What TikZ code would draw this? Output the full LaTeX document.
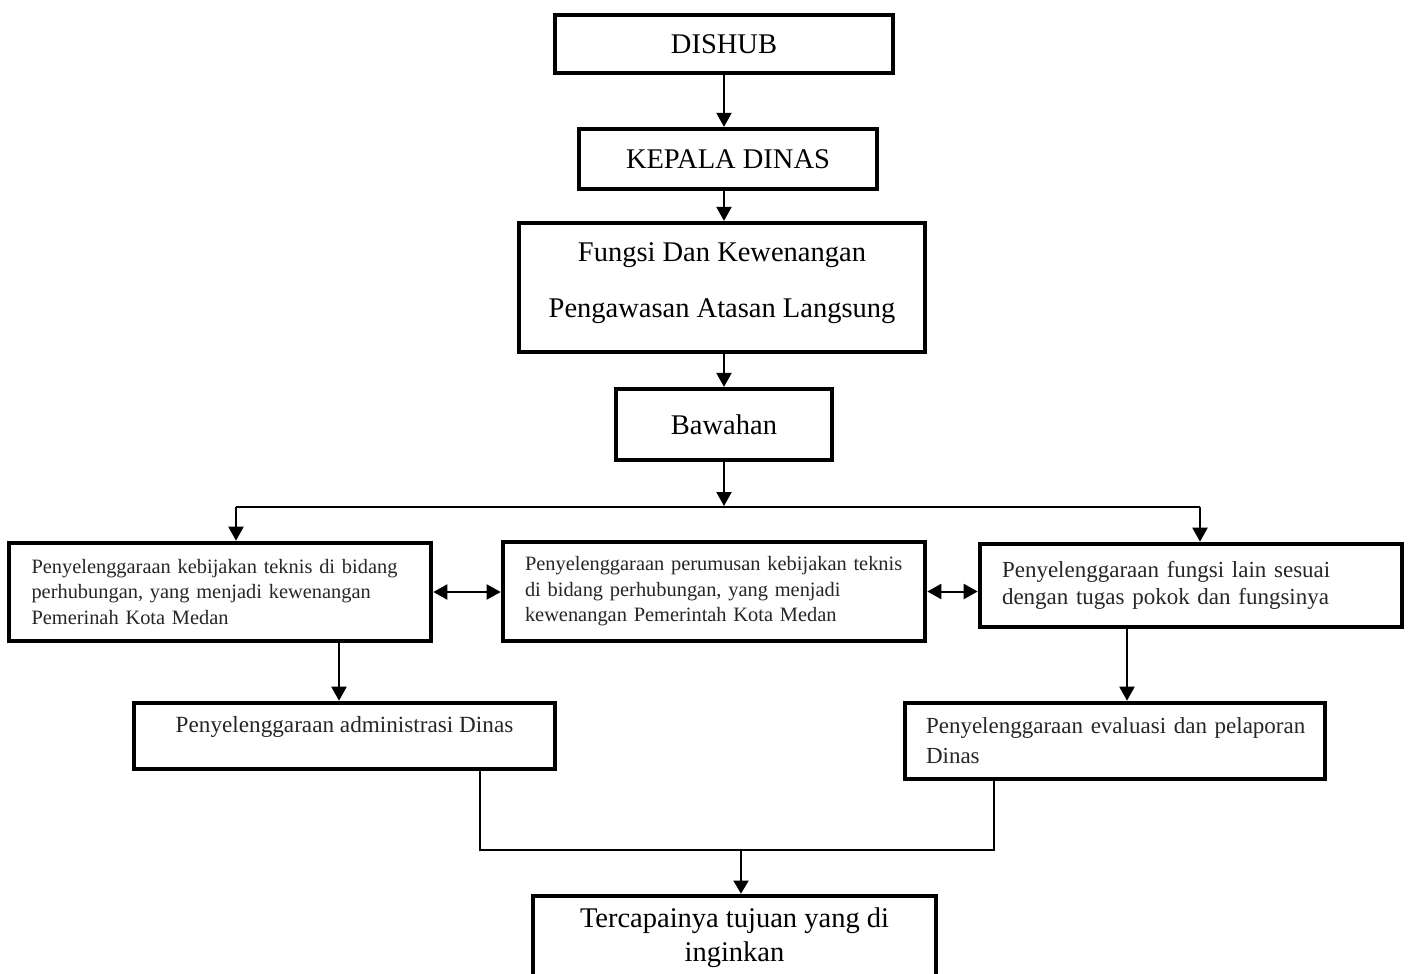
\documentclass[tikz,border=0pt]{standalone}
\usepackage{fontspec}
\setmainfont{Liberation Serif}
\usetikzlibrary{arrows.meta,calc}
\begin{document}
\begin{tikzpicture}[x=1pt,y=-1pt,
  box/.style={draw,line width=4.2pt,rectangle,inner sep=0pt,fill=white},
  bigtxt/.style={font=\fontsize{28.5}{34}\selectfont,align=center},
  smalltxt/.style={font=\fontsize{20.4}{25.5}\selectfont,align=left,text width=377pt,text=black!85},
  midtxt/.style={font=\fontsize{23}{27}\selectfont,text=black!85},
  arr/.style={line width=2pt,-{Triangle[width=15pt,length=14pt]}},
  darr/.style={line width=2pt,{Triangle[width=15pt,length=14pt]}-{Triangle[width=15pt,length=14pt]}},
  joinline/.style={line width=1.5pt}]
\useasboundingbox (0,0) rectangle (1409,974);
\clip (0,0) rectangle (1409,974);

\node[box, minimum width=338pt, minimum height=58pt, bigtxt] (dishub) at (724,44) {DISHUB};
\node[box, minimum width=298pt, minimum height=60pt, bigtxt] (kepala) at (728,159) {KEPALA DINAS};
\node[box, minimum width=406pt, minimum height=129pt, font=\fontsize{28.5}{56}\selectfont, align=center, text depth=14pt] (fungsi) at (722,287.5) {Fungsi Dan Kewenangan\\Pengawasan Atasan Langsung};
\node[box, minimum width=216pt, minimum height=71pt, bigtxt] (bawahan) at (724,424.5) {Bawahan};

\node[box, line width=4.6pt, minimum width=422pt, minimum height=98pt, smalltxt] (f1) at (220,592) {\mbox{Penyelenggaraan kebijakan teknis di bidang}\\\mbox{perhubungan, yang menjadi kewenangan}\\\mbox{Pemerinah Kota Medan}};
\node[box, line width=4.6pt, minimum width=422pt, minimum height=99pt, smalltxt, text width=378pt] (f2) at (714,591.5) {\mbox{Penyelenggaraan perumusan kebijakan teknis}\\\mbox{di bidang perhubungan, yang menjadi}\\\mbox{kewenangan Pemerintah Kota Medan}};
\node[box, line width=4.6pt, minimum width=422pt, minimum height=83pt, midtxt, align=left, text width=378pt] (f3) at (1191,585.5) {\mbox{Penyelenggaraan fungsi lain sesuai}\\\mbox{dengan tugas pokok dan fungsinya}};

\node[box, line width=4.6pt, minimum width=421pt, minimum height=66pt, midtxt, font=\fontsize{23.2}{27}\selectfont, text height=17pt, text depth=25pt] (adm) at (344.5,736) {Penyelenggaraan administrasi Dinas};
\node[box, line width=4.6pt, minimum width=420pt, minimum height=76pt, midtxt, align=left, text width=378pt, font=\fontsize{23}{30}\selectfont] (eval) at (1115,741) {\mbox{Penyelenggaraan evaluasi dan pelaporan}\\\mbox{Dinas}};

\node[box, line width=4.6pt, minimum width=403pt, minimum height=84pt, font=\fontsize{28.5}{34}\selectfont, align=center] (goal) at (734.5,938) {Tercapainya tujuan yang di\\inginkan};

\coordinate (cx) at (724,0);
\draw[arr] (dishub.south -| cx) -- (kepala.north -| cx);
\draw[arr] (kepala.south -| cx) -- (fungsi.north -| cx);
\draw[arr] (fungsi.south -| cx) -- (bawahan.north -| cx);

\coordinate (j) at (724,507);
\coordinate (jl) at (236,507);
\coordinate (jr) at (1200,507);
\draw[arr] (bawahan.south -| j) -- ($(j)+(0,-1)$);
\draw[line width=2pt] (jl) -- (jr);
\draw[arr] (jl) -- (jl |- f1.north);
\draw[arr] (jr) -- (jr |- f3.north);

\draw[darr] (f1.east) -- (f1.east -| f2.west);
\draw[darr] (f2.east) -- (f2.east -| f3.west);

\coordinate (a1) at (339,0);
\coordinate (a3) at (1127,0);
\draw[arr] (f1.south -| a1) -- (adm.north -| a1);
\draw[arr] (f3.south -| a3) -- (eval.north -| a3);

\coordinate (bl) at (480,850);
\coordinate (br) at (994,850);
\coordinate (bm) at (741,850);
\draw[joinline] (adm.south -| bl) -- (bl) -- (br) -- (eval.south -| br);
\draw[joinline,-{Triangle[width=15pt,length=13pt]}] (bm) -- (bm |- goal.north);
\end{tikzpicture}
\end{document}
